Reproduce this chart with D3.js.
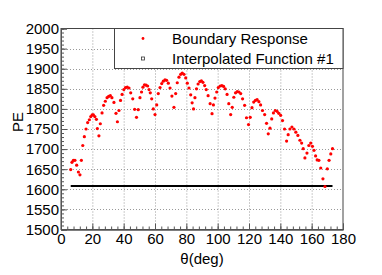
<!DOCTYPE html>
<html>
<head>
<meta charset="utf-8">
<script src="https://cdn.jsdelivr.net/npm/d3@7"></script>
<style>
  body { margin: 0; background: #fff; }
  svg { display: block; }
  .tick text { font-family: "Liberation Sans", Arial, sans-serif; font-size: 15px; fill: #000; }
  .axis path, .axis line { stroke: #555; }
  .grid line { stroke: #999; stroke-dasharray: 1,2; }
  .label { font-family: "Liberation Sans", Arial, sans-serif; font-size: 15px; }
</style>
</head>
<body>
<div id="chart"></div>
<script>
// angle (deg) and PE
var angles = [6.2,7.0,7.9,8.9,10.0,11.1,12.1,13.0,13.9,14.9,16.0,17.0,18.1,19.0,19.9,20.7,21.6,22.6,23.2,24.2,
  25.1,26.2,27.2,28.3,29.4,30.4,31.5,32.5,33.8,35.1,36.0,37.0,38.0,39.0,40.1,41.2,42.3,43.4,44.5,45.8,
  47.0,48.2,49.3,50.4,51.4,52.3,53.3,54.3,55.3,56.2,57.0,57.9,58.9,60.0,61.1,62.1,63.2,64.3,65.3,66.4,
  67.4,68.5,69.6,70.8,72.1,73.2,74.2,75.3,76.4,77.4,78.5,79.6,80.6,81.7,82.8,83.7,84.6,85.5,86.5,87.5,
  88.6,89.6,90.6,91.7,92.7,93.9,95.2,96.4,97.3,98.3,99.4,100.4,101.6,102.7,103.8,104.8,106.0,107.1,108.3,109.3,
  110.3,111.4,112.5,113.6,114.7,115.9,117.2,118.4,119.7,120.8,121.9,123.0,124.1,125.2,126.3,127.4,128.6,130.0,131.2,132.3,
  133.4,134.5,135.6,136.8,137.9,139.0,140.2,141.4,142.7,144.0,145.0,146.1,147.4,148.7,149.9,151.2,152.5,153.6,154.6,155.7,
  157.0,158.2,159.4,160.5,161.5,162.5,163.5,164.6,165.8,167.2,168.5,170.0,171.1,172.2,173.3]
var boundaryPE = [1649,1667,1672,1672,1660,1643,1636,1672,1709,1731,1750,1766,1773,1781,1785,1785,1781,1774,1751,1733,
  1763,1790,1809,1819,1828,1831,1833,1828,1816,1789,1768,1796,1821,1836,1848,1853,1854,1852,1840,1825,
  1799,1779,1798,1828,1842,1854,1860,1859,1857,1848,1840,1825,1800,1786,1810,1838,1853,1863,1869,1872,
  1871,1864,1852,1832,1804,1838,1865,1879,1886,1889,1886,1877,1864,1852,1835,1815,1800,1828,1850,1862,
  1868,1870,1866,1858,1848,1833,1813,1788,1810,1827,1842,1853,1857,1858,1856,1850,1836,1813,1786,1804,
  1829,1840,1843,1842,1838,1825,1809,1778,1761,1779,1803,1817,1821,1823,1818,1810,1796,1786,1764,1738,
  1752,1775,1790,1796,1794,1789,1784,1771,1750,1720,1736,1750,1755,1750,1742,1734,1722,1715,1701,1678,
  1690,1709,1715,1707,1697,1683,1673,1672,1653,1626,1607,1651,1672,1688,1701]

// interpolated function #1 (flat line)
var fitRange = [6.2, 173.3]
var fitPE = 1608

var xTicks = [0, 20, 40, 60, 80, 100, 120, 140, 160, 180]
var yTicks = [1500, 1550, 1600, 1650, 1700, 1750, 1800, 1850, 1900, 1950, 2000]
var legendLabels = ["Boundary Response", "Interpolated Function #1"]

var W = 382, H = 275
var frame = { left: 61, right: 343, top: 28.5, bottom: 229.5 }

var svg = d3.select("#chart")
    .append("svg")
        .attr("width", W)
        .attr("height", H)

svg.append("rect")
    .attr("width", W)
    .attr("height", H)
    .attr("fill", "#fff")

var x = d3.scaleLinear()
    .domain([0, 180])
    .range([frame.left, frame.right])

var y = d3.scaleLinear()
    .domain([1500, 2000])
    .range([frame.bottom, frame.top])

// dotted grid
var grid = svg.append("g").attr("class", "grid")
grid.selectAll(".gx")
    .data(xTicks.slice(1, -1))
    .enter().append("line")
        .attr("x1", d => x(d) + 0.5)
        .attr("x2", d => x(d) + 0.5)
        .attr("y1", frame.top)
        .attr("y2", frame.bottom)
grid.selectAll(".gy")
    .data(yTicks.slice(1, -1))
    .enter().append("line")
        .attr("x1", frame.left)
        .attr("x2", frame.right)
        .attr("y1", d => Math.round(y(d)) + 0.5)
        .attr("y2", d => Math.round(y(d)) + 0.5)

// frame
svg.append("rect")
    .attr("x", frame.left)
    .attr("y", frame.top)
    .attr("width", frame.right - frame.left)
    .attr("height", frame.bottom - frame.top)
    .attr("fill", "none")
    .attr("stroke", "#444")

// minor ticks
var xMinor = d3.range(0, 181, 4)
var yMinor = d3.range(1500, 2001, 10)

svg.append("g")
    .attr("class", "axis")
    .attr("transform", "translate(0," + frame.bottom + ")")
    .call(d3.axisBottom(x).tickValues(xMinor).tickSize(-3).tickFormat(""))
svg.append("g")
    .attr("class", "axis")
    .attr("transform", "translate(" + frame.left + ",0)")
    .call(d3.axisLeft(y).tickValues(yMinor).tickSize(-3).tickFormat(""))

// major ticks + labels
var xAxis = svg.append("g")
    .attr("class", "axis")
    .attr("transform", "translate(0," + frame.bottom + ")")
    .call(d3.axisBottom(x).tickValues(xTicks).tickSize(-6).tickPadding(4).tickFormat(d3.format("d")))
var yAxis = svg.append("g")
    .attr("class", "axis")
    .attr("transform", "translate(" + frame.left + ",0)")
    .call(d3.axisLeft(y).tickValues(yTicks).tickSize(-6).tickPadding(2).tickFormat(d3.format("d")))

svg.selectAll(".axis path").attr("stroke", "#5a5a78")

// axis titles
svg.append("text")
    .attr("class", "label")
    .attr("x", (frame.left + frame.right) / 2)
    .attr("y", 264)
    .attr("text-anchor", "middle")
    .text("θ(deg)")

svg.append("text")
    .attr("class", "label")
    .attr("transform", "translate(23,122) rotate(-90)")
    .attr("text-anchor", "middle")
    .text("PE")

// flat line
svg.append("line")
    .attr("x1", x(fitRange[0]))
    .attr("x2", x(fitRange[1]))
    .attr("y1", y(fitPE))
    .attr("y2", y(fitPE))
    .attr("stroke", "#000")
    .attr("stroke-width", 2)

// points
svg.append("g")
    .selectAll("circle")
    .data(angles.map((a, i) => ({ a: a, pe: boundaryPE[i] })))
    .enter().append("circle")
        .attr("cx", d => x(d.a))
        .attr("cy", d => y(d.pe))
        .attr("r", 1.6)
        .attr("fill", "#ff0000")

// legend
var legend = svg.append("g")
legend.append("rect")
    .attr("x", 114.5)
    .attr("y", frame.top)
    .attr("width", frame.right - 114.5)
    .attr("height", 40)
    .attr("fill", "#fff")
    .attr("stroke", "#444")

legend.append("circle")
    .attr("cx", 143)
    .attr("cy", 38.5)
    .attr("r", 1.4)
    .attr("fill", "#ff0000")

legend.append("rect")
    .attr("x", 141.5)
    .attr("y", 57)
    .attr("width", 3)
    .attr("height", 3)
    .attr("fill", "none")
    .attr("stroke", "#333")
    .attr("stroke-width", 0.8)

legend.selectAll(".lt")
    .data(legendLabels)
    .enter().append("text")
        .attr("class", "label")
        .attr("x", 172)
        .attr("y", (d, i) => 43.5 + i * 20)
        .text(d => d)
</script>
</body>
</html>
